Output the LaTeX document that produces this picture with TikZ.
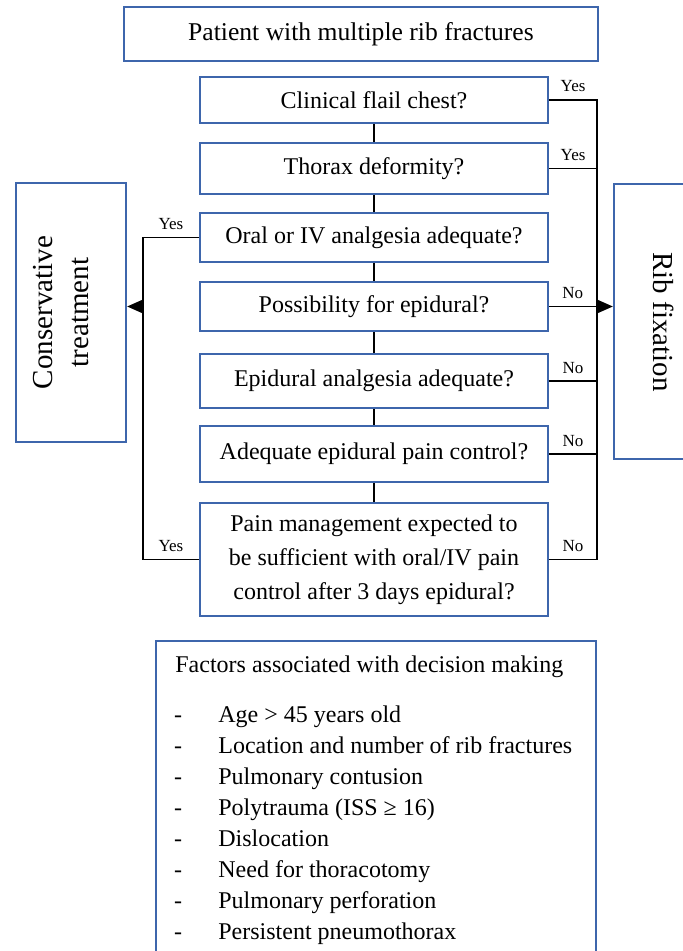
\documentclass[tikz,border=0pt]{standalone}
\usepackage{fontspec}
\setmainfont{Liberation Serif}
\usetikzlibrary{arrows.meta,positioning}
\definecolor{boxblue}{RGB}{62,102,172}

\begin{document}
\begin{tikzpicture}[x=0.5pt, y=-0.5pt,
    question/.style={rectangle, draw=boxblue, line width=1.2pt, minimum width=174pt,
                     align=center, inner sep=0pt, font=\fontsize{12}{17}\selectfont},
    start/.style={question, minimum width=237pt, minimum height=27pt, font=\fontsize{12.8}{15}\selectfont},
    outcome/.style={rectangle, draw=boxblue, line width=1.2pt, inner sep=0pt},
    outtext/.style={align=center, inner sep=0pt, font=\fontsize{14.5}{18}\selectfont},
    answer/.style={font=\fontsize{8.5}{9}\selectfont, anchor=base, inner sep=0pt, yshift=4pt},
    link/.style={black, line width=0.6pt},
    tip/.style={link, -{Triangle[length=7.5pt, width=6.5pt]}},
    factor/.style={font=\fontsize{12}{14}\selectfont, inner sep=0pt}
]
    \useasboundingbox (0,0) rectangle (683,951);

    \node[start] (patient) at (361,34) {Patient with multiple rib fractures};
    \node[question, minimum height=23pt] (flail) at (374,100) {Clinical flail chest?};
    \node[question, minimum height=25.5pt] (deform) at (374,168.5) {Thorax deformity?};
    \node[question, minimum height=24.5pt] (oral) at (374,237.5) {Oral or IV analgesia adequate?};
    \node[question, minimum height=24.5pt] (epipos) at (374,306.5) {Possibility for epidural?};
    \node[question, minimum height=27pt] (epiadq) at (374,381) {Epidural analgesia adequate?};
    \node[question, minimum height=28pt] (epictrl) at (374,454) {Adequate epidural pain control?};
    \node[question, minimum height=56.5pt] (painmgmt) at (374,559.5)
        {Pain management expected to\\ be sufficient with oral/IV pain\\ control after 3 days epidural?};

    \node[outcome, minimum width=55pt, minimum height=129.5pt] (conserv) at (71,312.5) {};
    \node[outtext, rotate=90] (conservtext) at (61,312.5) {Conservative\\ treatment};
    \node[outcome, minimum width=46pt, minimum height=137.5pt] (ribfix) at (660,321.5) {};
    \node[outtext, rotate=-90] (ribfixtext) at (664,322) {Rib fixation};

    \coordinate (rrail) at (597,100);
    \coordinate (lrail) at (143,241);

    \foreach \a/\b in {flail/deform, deform/oral, oral/epipos, epipos/epiadq, epiadq/epictrl, epictrl/painmgmt}
        \draw[link] (\a) -- (\b);

    \draw[link] (flail.east) -- node[answer] {Yes} (flail.east -| rrail)
        -- (painmgmt.east -| rrail) -- node[answer] {No} (painmgmt.east);
    \draw[link] (deform.east) -- node[answer] {Yes} (deform.east -| rrail);
    \draw[link] (epiadq.east) -- node[answer] {No} (epiadq.east -| rrail);
    \draw[link] (epictrl.east) -- node[answer] {No} (epictrl.east -| rrail);
    \draw[tip] (epipos.east) -- node[answer, pos=0.37] {No} (epipos.east -| ribfix.west);

    \draw[link] (oral.west) -- node[answer] {Yes} (oral.west -| lrail)
        -- (painmgmt.west -| lrail) -- node[answer] {Yes} (painmgmt.west);
    \draw[tip] (epipos.center -| lrail) -- (epipos.center -| conserv.east);

    \node[draw=boxblue, line width=1.2pt, minimum width=220pt, minimum height=175pt, anchor=north]
        (factbox) at (376,640) {};
    \node[factor, anchor=base west] (facthead) at (175,672) {Factors associated with decision making};
    \foreach \ftext [count=\i from 0] in {Age > 45 years old, Location and number of rib fractures,
        Pulmonary contusion, Polytrauma (ISS ≥ 16), Dislocation, Need for thoracotomy,
        Pulmonary perforation, Persistent pneumothorax} {
        \node[factor, anchor=base] (dash\i) at (178,{722+31*\i}) {-};
        \node[factor, anchor=base west] (item\i) at (218,{722+31*\i}) {\ftext};
    }
\end{tikzpicture}
\end{document}
